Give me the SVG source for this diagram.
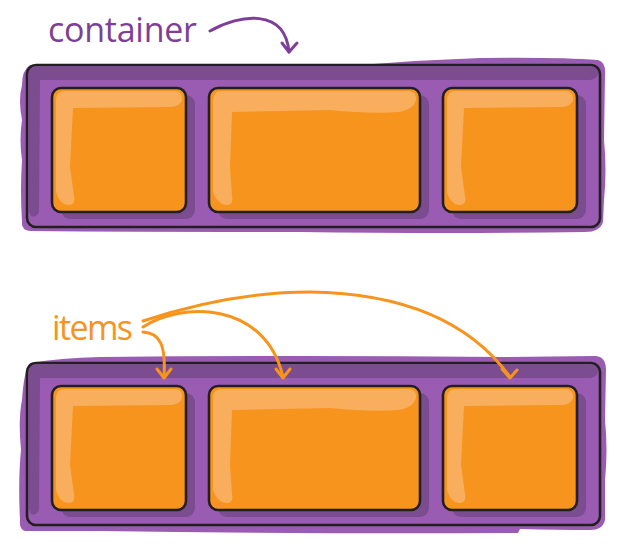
<svg xmlns="http://www.w3.org/2000/svg" xmlns:xlink="http://www.w3.org/1999/xlink" width="626" height="555" viewBox="0 0 626 555">
<style>
.purple{fill:#9a5cb3}
.band{fill:#7b4c8f}
.outline{fill:none;stroke:#231f20;stroke-width:2.6}
.body{fill:#f7941e}
.hl{fill:#f8ae5c}
.shadow{fill:#7b4c8f}
.lbl{font-family:"Open Sans","Liberation Sans",sans-serif;font-size:34px}
.arr-p{fill:none;stroke:#7d3f98;stroke-width:3;stroke-linecap:round;stroke-linejoin:round}
.arr-o{fill:none;stroke:#f7941e;stroke-width:3;stroke-linecap:round;stroke-linejoin:round}
</style>
<defs>
<g id="itemSmall">
<rect class="shadow" x="9" y="7" width="134" height="124" rx="9"/>
<rect class="body" x="0" y="0" width="134" height="124" rx="9"/>
<path class="hl" d="M4,12 Q4,3 13,3 L122,3 Q131,3 130,12 Q128,19 118,19 L21,20 L18,79 L22,108 Q24,117 16,117 Q7,116 4,104 Z"/>
<rect class="outline" x="0" y="0" width="134" height="124" rx="9"/>
</g>
<g id="itemWide">
<rect class="shadow" x="9" y="7" width="211" height="124" rx="9"/>
<rect class="body" x="0" y="0" width="211" height="124" rx="9"/>
<path class="hl" d="M4,12 Q4,3 13,3 L199,3 Q208,3 207,12 Q204,22 189,24 Q161,26 121,22 L23,24 L21,79 L23,108 Q25,117 17,117 Q8,116 4,104 Z"/>
<rect class="outline" x="0" y="0" width="211" height="124" rx="9"/>
</g>
</defs>

<g id="container-top">
<path class="purple" d="M30,65 L360,65 Q420,60 480,58 Q560,57 598,60 Q606,62 605,75 L604,140 Q607,170 604,200 L603,222 Q600,232 585,232 Q450,234 300,232 Q150,232 30,231 Q21,230 22,222 Q20,190 22,160 Q19,140 22,120 Q18,100 22,85 Q22,70 30,65 Z"/>
<path class="band" d="M29,73 Q29,67 36,67 L592,67 Q599,67 598,74 Q596,80 588,80 L40,80 L39,212 Q36,218 31,216 L29,212 Z"/>
<rect class="outline" x="27" y="65" width="573" height="162" rx="9"/>
</g>

<g id="item1-top"><use xlink:href="#itemSmall" x="52" y="88"/></g>
<g id="item2-top"><use xlink:href="#itemWide" x="209" y="88"/></g>
<g id="item3-top"><use xlink:href="#itemSmall" x="443" y="88"/></g>

<g id="container-bottom">
<path class="purple" d="M30,363 Q60,358 100,357 Q300,355 500,357 L596,356 Q606,357 606,370 L605,420 Q608,450 605,480 L605,520 Q603,530 590,530 Q560,530 520,529 L518,533 Q300,534 100,531 L25,531 Q19,529 20,520 Q18,480 21,450 Q18,420 22,400 Q24,370 30,363 Z"/>
<path class="band" d="M29,371 Q29,365 36,365 L592,365 Q599,365 598,372 Q596,378 588,378 L40,378 L39,510 Q36,516 31,514 L29,510 Z"/>
<rect class="outline" x="27" y="363" width="573" height="162" rx="9"/>
</g>

<g id="item1-bottom"><use xlink:href="#itemSmall" x="52" y="386"/></g>
<g id="item2-bottom"><use xlink:href="#itemWide" x="209" y="386"/></g>
<g id="item3-bottom"><use xlink:href="#itemSmall" x="443" y="386"/></g>

<g id="label-container">
<text class="lbl" x="48" y="42" fill="#7d3f98" textLength="149" lengthAdjust="spacing">container</text>
</g>
<g id="label-items">
<text class="lbl" x="52" y="340" fill="#f7941e" textLength="81" lengthAdjust="spacing">items</text>
</g>

<g id="connectors">
<path class="arr-p" d="M210,31 C240,14 285,8 289,52"/>
<path class="arr-p" d="M282,43 L289,52 L297,43"/>
<path class="arr-o" d="M143,332 C160,333 166,345 164,377"/>
<path class="arr-o" d="M157,369 L164,378 L171,369"/>
<path class="arr-o" d="M143,327 C180,302 265,300 283,377"/>
<path class="arr-o" d="M276,369 L283,378 L290,369"/>
<path class="arr-o" d="M143,321 Q230,292 310,292 Q450,294 510,377"/>
<path class="arr-o" d="M502,369 L510,378 L517,370"/>
</g>
</svg>
